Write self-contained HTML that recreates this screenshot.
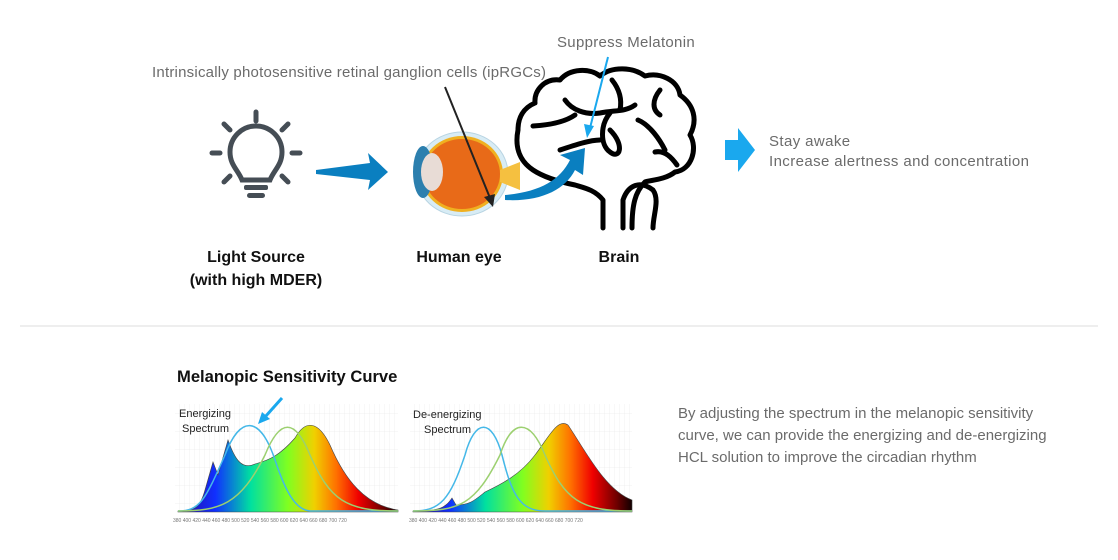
<!DOCTYPE html>
<html><head><meta charset="utf-8"><style>
body{margin:0;width:1118px;height:560px;background:#fff;overflow:hidden;font-family:"Liberation Sans",sans-serif}
svg{position:absolute;left:0;top:0}
</style></head><body>
<svg width="1118" height="560" viewBox="0 0 1118 560" xmlns="http://www.w3.org/2000/svg" font-family="Liberation Sans, sans-serif">
<defs>
<linearGradient id="sp" x1="0" x2="1" y1="0" y2="0">
<stop offset="0" stop-color="#2a0a9a"/><stop offset="0.17" stop-color="#1030ff"/><stop offset="0.33" stop-color="#00e0a0"/>
<stop offset="0.5" stop-color="#80ff20"/><stop offset="0.62" stop-color="#f0d000"/><stop offset="0.72" stop-color="#ff7000"/>
<stop offset="0.82" stop-color="#f00000"/><stop offset="0.93" stop-color="#700000"/><stop offset="1" stop-color="#100000"/>
</linearGradient>
<pattern id="grid" width="5" height="18" patternUnits="userSpaceOnUse"><path d="M5 0V18M0 18H5" stroke="#e6e6e6" stroke-width="0.6" fill="none"/></pattern>
</defs>
<text x="557" y="47" font-size="15" letter-spacing="0.3" fill="#6b6b6b">Suppress Melatonin</text>
<text x="152" y="77" font-size="15" letter-spacing="0.22" fill="#6b6b6b">Intrinsically photosensitive retinal ganglion cells (ipRGCs)</text>
<g stroke="#454d55" stroke-width="5" stroke-linecap="round" fill="none">
<line x1="256" y1="112" x2="256" y2="121"/><line x1="224" y1="124" x2="230" y2="130"/><line x1="288" y1="124" x2="282" y2="130"/>
<line x1="212" y1="153" x2="220" y2="153"/><line x1="292" y1="153" x2="300" y2="153"/>
<line x1="224" y1="182" x2="230" y2="176"/><line x1="288" y1="182" x2="282" y2="176"/>
<path d="M242 180 C238 170 230 165 230 152 A26 26 0 1 1 282 152 C282 165 274 170 270 180 Z"/>
</g>
<rect x="244" y="185" width="24" height="5" rx="2" fill="#454d55"/>
<rect x="247" y="193" width="18" height="5" rx="2.5" fill="#454d55"/>
<polygon points="316,170 370,163 368,153 388,172 368,190 370,180 316,174" fill="#0a7fc0"/>
<ellipse cx="462" cy="174" rx="46" ry="42" fill="#d8ecf5" stroke="#b8d4e2"/>
<ellipse cx="462" cy="174" rx="41" ry="38" fill="#f0b020"/>
<ellipse cx="462" cy="174" rx="38" ry="35" fill="#e86a18"/>
<path d="M500 170 L520 162 L520 190 L500 182Z" fill="#f5c040"/>
<ellipse cx="423" cy="172" rx="10" ry="26" fill="#2c7fae"/>
<ellipse cx="432" cy="172" rx="11" ry="19" fill="#e8dcd6"/>
<line x1="445" y1="87" x2="490" y2="198" stroke="#222" stroke-width="2"/>
<polygon points="493,207 484,197 495,194" fill="#222"/>
<g stroke="#000" stroke-width="5" fill="none" stroke-linecap="round" stroke-linejoin="round">
<path d="M603 228 V200 C595 190 585 188 575 185 C560 182 545 178 533 170 C518 160 515 145 518 130 C518 118 523 108 535 103 C534 90 545 78 560 80 C570 68 590 68 600 76 C612 66 633 67 645 76 C660 72 678 80 680 95 C694 105 698 120 690 135 C698 148 692 170 675 172 C665 180 650 180 645 182 C635 192 632 205 632 228"/>
<path d="M623 228 V200 C628 185 640 180 653 190 C660 200 653 215 653 228"/>
<path d="M533 126 C550 125 565 122 575 115"/>
<path d="M565 100 C572 110 585 115 600 113 C615 110 625 112 635 105"/>
<path d="M610 113 C600 125 600 145 610 152 C620 160 625 145 610 130"/>
<path d="M560 150 C575 145 590 140 600 140"/>
<path d="M638 120 C650 125 660 140 665 150"/>
<path d="M655 152 C665 150 672 158 677 165"/>
<path d="M612 80 C620 90 622 100 620 110"/>
<path d="M660 90 C652 100 652 110 660 115"/>
</g>
<path d="M505 195 C540 192 560 180 570 160 L560 155 L585 148 L583 175 L575 170 C565 190 540 202 505 200Z" fill="#0a7fc0"/>
<line x1="608" y1="57" x2="590" y2="128" stroke="#1aa8ee" stroke-width="2"/>
<polygon points="587,138 584,124 594,126" fill="#1aa8ee"/>
<polygon points="725,140 738,140 738,128 755,150 738,172 738,160 725,160" fill="#1aa8ee"/>
<text x="769" y="146" font-size="15" letter-spacing="0.4" fill="#6b6b6b">Stay awake</text>
<text x="769" y="166" font-size="15" letter-spacing="0.4" fill="#6b6b6b">Increase alertness and concentration</text>
<g font-size="16" font-weight="bold" fill="#111" text-anchor="middle">
<text x="256" y="262">Light Source</text><text x="256" y="285">(with high MDER)</text>
<text x="459" y="262">Human eye</text><text x="619" y="262">Brain</text>
</g>
<line x1="20" y1="326" x2="1098" y2="326" stroke="#ddd"/>
<text x="177" y="382" font-size="16.6" font-weight="bold" fill="#111">Melanopic Sensitivity Curve</text>
<rect x="175" y="404" width="223" height="108" fill="url(#grid)"/>
<path d="M178 511 C195 511 200 508 205 490 L213 462 L218 475 L228 440 C235 460 242 470 255 464 C270 460 280 455 295 438 C305 420 318 420 330 445 C345 480 365 505 398 510 L398 512 L178 512Z" fill="url(#sp)" stroke="#444" stroke-width="0.6"/>
<path d="M178 511 C200 511 205 500 225 455 C240 415 260 415 275 460 C285 490 295 510 310 511 L398 511" fill="none" stroke="#45b8e8" stroke-width="1.5"/>
<path d="M178 511 C220 511 240 505 265 455 C280 418 295 418 310 455 C330 500 345 511 398 511" fill="none" stroke="#9cd070" stroke-width="1.5"/>
<text x="179" y="417" font-size="11" fill="#222">Energizing</text><text x="182" y="432" font-size="11" fill="#222">Spectrum</text>
<line x1="282" y1="398" x2="265" y2="417" stroke="#1aa8ee" stroke-width="3"/>
<polygon points="258,424 262,412 270,419" fill="#1aa8ee"/>
<rect x="410" y="404" width="222" height="108" fill="url(#grid)"/>
<path d="M413 511 C440 511 445 508 452 498 L456 505 C470 505 475 500 485 492 C500 485 520 475 535 455 C550 435 558 418 568 425 C585 450 605 490 632 500 L632 512 L413 512Z" fill="url(#sp)" stroke="#444" stroke-width="0.6"/>
<path d="M413 511 C440 511 450 500 465 455 C475 418 492 418 502 455 C512 495 520 511 545 511 L632 511" fill="none" stroke="#45b8e8" stroke-width="1.5"/>
<path d="M413 511 C460 511 475 505 500 455 C512 418 530 418 545 455 C565 500 580 511 632 511" fill="none" stroke="#9cd070" stroke-width="1.5"/>
<text x="413" y="418" font-size="11" fill="#222">De-energizing</text><text x="424" y="433" font-size="11" fill="#222">Spectrum</text>
<g font-size="5" fill="#777"><text x="173" y="522">380 400 420 440 460 480 500 520 540 560 580 600 620 640 660 680 700 720</text>
<text x="409" y="522">380 400 420 440 460 480 500 520 540 560 580 600 620 640 660 680 700 720</text></g>
<g font-size="15" fill="#6b6b6b"><text x="678" y="418">By adjusting the spectrum in the melanopic sensitivity</text>
<text x="678" y="440">curve, we can provide the energizing and de-energizing</text>
<text x="678" y="462">HCL solution to improve the circadian rhythm</text></g>
</svg>
</body></html>
